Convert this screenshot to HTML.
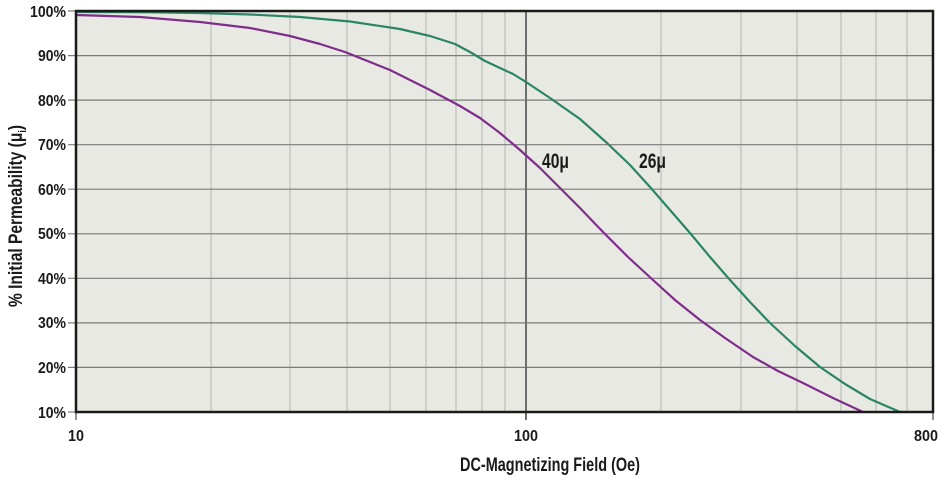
<!DOCTYPE html>
<html><head><style>
html,body{margin:0;padding:0;background:#fff;}
svg text{font-family:"Liberation Sans Narrow","Liberation Sans",sans-serif;font-weight:bold;fill:#1a1a1a;}
</style></head><body>
<svg width="943" height="480" viewBox="0 0 943 480" xmlns="http://www.w3.org/2000/svg">
<rect x="76" y="11" width="857" height="401" fill="#e9e9e4"/>
<g stroke="#b4b4b0" stroke-width="1">
<line x1="211" y1="11" x2="211" y2="412"/><line x1="290" y1="11" x2="290" y2="412"/>
<line x1="347" y1="11" x2="347" y2="412"/><line x1="390" y1="11" x2="390" y2="412"/>
<line x1="426" y1="11" x2="426" y2="412"/><line x1="456" y1="11" x2="456" y2="412"/>
<line x1="482" y1="11" x2="482" y2="412"/><line x1="505" y1="11" x2="505" y2="412"/>
<line x1="661" y1="11" x2="661" y2="412"/><line x1="741" y1="11" x2="741" y2="412"/>
<line x1="797" y1="11" x2="797" y2="412"/><line x1="841" y1="11" x2="841" y2="412"/>
<line x1="876" y1="11" x2="876" y2="412"/><line x1="907" y1="11" x2="907" y2="412"/>
</g>
<g stroke="#7a7a78" stroke-width="1.2">
<line x1="68" y1="55.6" x2="933" y2="55.6"/><line x1="68" y1="100.1" x2="933" y2="100.1"/>
<line x1="68" y1="144.7" x2="933" y2="144.7"/><line x1="68" y1="189.2" x2="933" y2="189.2"/>
<line x1="68" y1="233.8" x2="933" y2="233.8"/><line x1="68" y1="278.3" x2="933" y2="278.3"/>
<line x1="68" y1="322.9" x2="933" y2="322.9"/><line x1="68" y1="367.4" x2="933" y2="367.4"/>
<line x1="68" y1="11" x2="76" y2="11"/><line x1="68" y1="412" x2="76" y2="412"/>
</g>
<line x1="526" y1="11" x2="526" y2="420" stroke="#6e6e6e" stroke-width="2"/>
<line x1="933" y1="412" x2="933" y2="420" stroke="#222" stroke-width="1"/>
<line x1="76" y1="412" x2="76" y2="420" stroke="#222" stroke-width="1"/>
<polyline points="76,12 150,12.3 200,13 250,14.5 300,17 350,21.5 400,29 430,36 455,44 470,52 485,61 500,68 513,74 526,82 550,98 580,119 607,143 630,165 650,187 670,210 690,233 710,257 730,280 750,302 770,323 795,346 820,367 845,384 870,399 900,412" fill="none" stroke="#2a8564" stroke-width="2.2" stroke-linejoin="round"/>
<polyline points="76,15 140,17 200,22 250,28 290,36 320,44 345,52 390,70 430,90 460,106 480,118 500,133 520,150 540,168 560,188 580,208 603,232 628,257 653,280 675,300 700,320 725,338 753,357 778,371 803,383 833,398 863,412" fill="none" stroke="#7f2d8a" stroke-width="2.2" stroke-linejoin="round"/>
<rect x="76" y="11" width="857" height="401" fill="none" stroke="#1a1a1a" stroke-width="2.5"/>
<g font-size="16" text-anchor="end">
<text x="66" y="17" textLength="36" lengthAdjust="spacingAndGlyphs">100%</text>
<text x="66" y="61" textLength="28" lengthAdjust="spacingAndGlyphs">90%</text>
<text x="66" y="106" textLength="28" lengthAdjust="spacingAndGlyphs">80%</text>
<text x="66" y="150" textLength="28" lengthAdjust="spacingAndGlyphs">70%</text>
<text x="66" y="195" textLength="28" lengthAdjust="spacingAndGlyphs">60%</text>
<text x="66" y="239" textLength="28" lengthAdjust="spacingAndGlyphs">50%</text>
<text x="66" y="284" textLength="28" lengthAdjust="spacingAndGlyphs">40%</text>
<text x="66" y="328" textLength="28" lengthAdjust="spacingAndGlyphs">30%</text>
<text x="66" y="373" textLength="28" lengthAdjust="spacingAndGlyphs">20%</text>
<text x="66" y="418" textLength="28" lengthAdjust="spacingAndGlyphs">10%</text>
</g>
<g font-size="16" text-anchor="middle">
<text x="76" y="441" textLength="16" lengthAdjust="spacingAndGlyphs">10</text>
<text x="526" y="441" textLength="24" lengthAdjust="spacingAndGlyphs">100</text>
<text x="926" y="441" textLength="24" lengthAdjust="spacingAndGlyphs">800</text>
</g>
<text x="550" y="471" font-size="19" text-anchor="middle" textLength="180" lengthAdjust="spacingAndGlyphs">DC-Magnetizing Field (Oe)</text>
<text transform="translate(22,216) rotate(-90)" font-size="19" text-anchor="middle" textLength="182" lengthAdjust="spacingAndGlyphs">% Initial Permeability (μ<tspan font-size="11" dy="4">i</tspan><tspan dy="-4">)</tspan></text>
<text x="542" y="168" font-size="21" textLength="27" lengthAdjust="spacingAndGlyphs">40μ</text>
<text x="639" y="168" font-size="21" textLength="27" lengthAdjust="spacingAndGlyphs">26μ</text>
</svg>
</body></html>
